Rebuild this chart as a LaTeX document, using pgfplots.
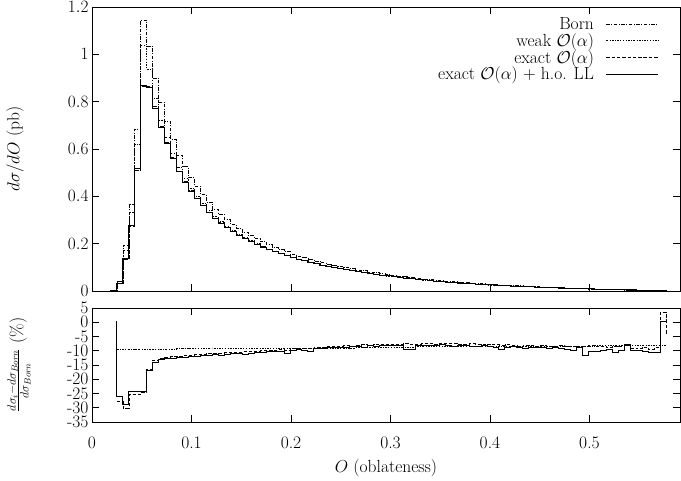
\documentclass[border=0pt]{standalone}
\usepackage{pgfplots}
\usepackage{pgfplotstable}
\pgfplotsset{compat=1.18}

\pgfplotstableread{
x B W E S
0 0 0 0 0
0.019 0.003 0.003 0.002 0.002
0.025 0.043 0.039 0.031 0.032
0.031 0.191 0.173 0.133 0.136
0.037 0.368 0.333 0.275 0.278
0.043 0.685 0.621 0.512 0.518
0.049 1.145 1.037 0.863 0.868
0.055 1.035 0.938 0.865 0.861
0.061 0.900 0.815 0.779 0.772
0.067 0.797 0.722 0.697 0.692
0.073 0.717 0.650 0.629 0.625
0.079 0.640 0.580 0.563 0.559
0.085 0.574 0.521 0.506 0.503
0.091 0.525 0.476 0.463 0.460
0.097 0.479 0.434 0.424 0.422
0.103 0.443 0.402 0.393 0.390
0.109 0.408 0.370 0.362 0.360
0.115 0.376 0.341 0.334 0.332
0.121 0.346 0.314 0.308 0.307
0.127 0.325 0.295 0.290 0.287
0.133 0.302 0.274 0.270 0.268
0.139 0.282 0.256 0.252 0.251
0.145 0.265 0.241 0.237 0.236
0.151 0.250 0.227 0.224 0.222
0.157 0.234 0.213 0.210 0.209
0.163 0.221 0.201 0.199 0.197
0.169 0.208 0.189 0.187 0.186
0.175 0.196 0.178 0.177 0.176
0.181 0.185 0.168 0.167 0.166
0.187 0.175 0.159 0.158 0.157
0.193 0.167 0.152 0.151 0.149
0.199 0.156 0.142 0.142 0.141
0.205 0.148 0.135 0.134 0.134
0.211 0.141 0.128 0.128 0.127
0.217 0.135 0.123 0.123 0.121
0.223 0.127 0.116 0.116 0.115
0.229 0.120 0.109 0.110 0.109
0.235 0.114 0.104 0.104 0.104
0.241 0.109 0.0992 0.0996 0.099
0.247 0.104 0.0946 0.0954 0.095
0.253 0.0987 0.0898 0.0906 0.090
0.259 0.094 0.0855 0.0862 0.086
0.265 0.0895 0.0816 0.0823 0.082
0.271 0.0854 0.0779 0.0787 0.078
0.277 0.0807 0.0736 0.0742 0.074
0.283 0.0776 0.0708 0.0715 0.071
0.289 0.0730 0.0666 0.0674 0.067
0.295 0.0696 0.0635 0.0642 0.064
0.301 0.0665 0.0606 0.0614 0.061
0.307 0.0631 0.0575 0.0582 0.058
0.313 0.0608 0.0554 0.0562 0.055
0.319 0.0575 0.0524 0.0530 0.052
0.325 0.0534 0.0488 0.0493 0.049
0.331 0.0511 0.0467 0.0473 0.047
0.337 0.0480 0.0439 0.0444 0.044
0.343 0.0457 0.0418 0.0422 0.042
0.349 0.0434 0.0397 0.0402 0.040
0.355 0.0414 0.0378 0.0383 0.038
0.361 0.0393 0.0359 0.0364 0.036
0.367 0.0370 0.0338 0.0342 0.034
0.373 0.0349 0.0319 0.0322 0.032
0.379 0.0339 0.0310 0.0314 0.031
0.385 0.0317 0.0290 0.0292 0.029
0.391 0.0305 0.0279 0.0281 0.028
0.397 0.0284 0.0260 0.0262 0.026
0.403 0.0274 0.0251 0.0253 0.025
0.409 0.0254 0.0232 0.0234 0.023
0.415 0.0241 0.0221 0.0222 0.022
0.421 0.0230 0.0210 0.0211 0.021
0.427 0.0220 0.0201 0.0202 0.020
0.433 0.0208 0.0190 0.0191 0.019
0.439 0.0198 0.0181 0.0182 0.018
0.445 0.0187 0.0171 0.0171 0.017
0.451 0.0175 0.0160 0.0161 0.016
0.457 0.0165 0.0151 0.0151 0.015
0.463 0.0154 0.0141 0.0141 0.014
0.469 0.0143 0.0131 0.0131 0.013
0.475 0.0133 0.0122 0.0122 0.012
0.481 0.0122 0.0112 0.0112 0.011
0.487 0.0110 0.0101 0.0100 0.010
0.493 0.0105 0.0096 0.0096 0.0093
0.499 0.0100 0.0092 0.0092 0.009
0.505 0.0089 0.0082 0.0081 0.008
0.511 0.0083 0.0076 0.0076 0.0075
0.517 0.0077 0.0071 0.0070 0.007
0.523 0.0067 0.0062 0.0061 0.006
0.529 0.0061 0.0056 0.0056 0.0055
0.535 0.0054 0.0050 0.0050 0.005
0.541 0.0050 0.0046 0.0046 0.0045
0.547 0.0044 0.0040 0.0040 0.004
0.553 0.0039 0.0036 0.0036 0.0035
0.559 0.0034 0.0031 0.0031 0.003
0.565 0.0028 0.0026 0.0026 0.0025
0.571 0.0020 0.0018 0.0021 0.0020
0.577 0 0 0 0
}\topdata

\pgfplotstableread{
x dW dE dS
0.025 nan nan 0.4
0.025 -9.4 -27.6 -26.1
0.031 -9.4 -30.2 -28.8
0.037 -9.4 -25.3 -24.4
0.043 -9.4 -25.3 -24.4
0.049 -9.4 -24.6 -24.2
0.055 -9.4 -16.4 -16.8
0.061 -9.4 -13.4 -14.2
0.067 -9.4 -12.6 -13.2
0.073 -9.4 -12.3 -12.8
0.079 -9.4 -12.1 -12.6
0.085 -9.3 -11.9 -12.4
0.091 -9.3 -11.7 -12.3
0.097 -9.3 -11.5 -11.9
0.103 -9.3 -11.4 -12.0
0.109 -9.3 -11.2 -11.7
0.115 -9.3 -11.0 -11.6
0.121 -9.3 -10.9 -11.4
0.127 -9.3 -10.8 -11.8
0.133 -9.3 -10.7 -11.3
0.139 -9.3 -10.5 -11.1
0.145 -9.1 -10.4 -11.0
0.151 -9.1 -10.3 -11.2
0.157 -9.1 -10.2 -10.8
0.163 -9.1 -10.1 -10.7
0.169 -9.1 -10.0 -10.5
0.175 -9.1 -9.9 -10.3
0.181 -9.1 -9.7 -10.4
0.187 -9.1 -9.6 -10.1
0.193 -9.1 -9.8 -10.9
0.199 -9.1 -9.3 -9.8
0.205 -9.0 -9.2 -9.6
0.211 -9.0 -9.0 -9.9
0.217 -9.0 -9.1 -10.2
0.223 -9.0 -8.8 -9.2
0.229 -9.0 -8.7 -9.3
0.235 -9.0 -8.5 -8.9
0.241 -9.0 -8.6 -9.0
0.247 -9.0 -8.3 -8.7
0.253 -9.0 -8.2 -8.8
0.259 -9.0 -8.3 -8.5
0.265 -8.8 -8.0 -8.4
0.271 -8.8 -7.9 -8.7
0.277 -8.8 -8.1 -8.3
0.283 -8.8 -7.8 -8.5
0.289 -8.8 -7.7 -8.2
0.295 -8.8 -7.8 -8.0
0.301 -8.8 -7.6 -8.3
0.307 -8.8 -7.7 -8.1
0.313 -8.8 -7.5 -9.6
0.319 -8.8 -7.8 -9.5
0.325 -8.6 -7.6 -8.2
0.331 -8.6 -7.4 -8.0
0.337 -8.6 -7.5 -8.3
0.343 -8.6 -7.7 -8.1
0.349 -8.6 -7.4 -7.9
0.355 -8.6 -7.5 -8.2
0.361 -8.6 -7.3 -8.4
0.367 -8.6 -7.6 -8.1
0.373 -8.6 -7.7 -8.3
0.379 -8.6 -7.5 -8.6
0.385 -8.5 -7.8 -8.4
0.391 -8.5 -7.9 -8.2
0.397 -8.5 -7.6 -8.5
0.403 -8.5 -7.8 -8.7
0.409 -8.5 -8.0 -9.4
0.415 -8.5 -7.9 -8.8
0.421 -8.5 -8.1 -8.6
0.427 -8.5 -8.3 -8.9
0.433 -8.5 -8.0 -9.2
0.439 -8.5 -8.2 -8.9
0.445 -8.3 -8.4 -9.0
0.451 -8.3 -8.1 -8.8
0.457 -8.3 -8.3 -9.1
0.463 -8.3 -8.5 -8.9
0.469 -8.3 -8.2 -9.3
0.475 -8.3 -8.6 -9.5
0.481 -8.3 -8.3 -9.8
0.487 -8.3 -8.7 -9.0
0.493 -8.3 -8.5 -11.8
0.499 -8.3 -8.2 -10.2
0.505 -8.1 -8.6 -10.1
0.511 -8.1 -8.4 -10.0
0.517 -8.1 -8.8 -9.6
0.523 -8.1 -8.3 -10.5
0.529 -8.1 -8.6 -9.8
0.535 -8.1 -8.1 -7.9
0.541 -8.1 -9.0 -9.8
0.547 -8.1 -9.3 -9.8
0.553 -8.1 -8.7 -10.4
0.559 -8.1 -9.5 -10.6
0.565 -8.1 -8.9 -10.7
0.571 -8.1 3.5 0.2
0.577 -8.1 -4.5 0.2
}\botdata

\pgfplotsset{
  every axis/.append style={
    font=\fontsize{17.5}{20}\selectfont,
    scale only axis,
    axis line style={line width=0.8pt},
    major tick length=7pt,
    tick style={line width=0.6pt, black},
    xmin=0, xmax=0.591,
    xtick={0,0.1,0.2,0.3,0.4,0.5},
    const plot,
  },
  bornstyle/.style={black, line width=0.6pt, dash pattern=on 3.5pt off 1.5pt on 1pt off 1.5pt},
  weakstyle/.style={black, line width=0.6pt, dash pattern=on 1.8pt off 1.4pt on 0.8pt off 1.4pt},
  exactstyle/.style={black, line width=0.6pt, dash pattern=on 3.5pt off 1.8pt},
  holstyle/.style={black, line width=0.9pt},
}

\begin{document}
\begin{tikzpicture}
\path[use as bounding box] (0pt,0pt) rectangle (681pt,481pt);
\begin{axis}[
  at={(92pt,190pt)}, anchor=south west,
  width=588pt, height=284pt,
  ymin=0, ymax=1.2,
  ytick={0,0.2,0.4,0.6,0.8,1,1.2},
  xticklabels={},
  ylabel={$d\sigma/dO$ (pb)},
  ylabel style={at={(axis description cs:-0.131,0.5)}, anchor=center},
  legend cell align=right,
  legend plot pos=right,
  legend style={at={(1,1)}, anchor=north east, xshift=-18pt, yshift=-6pt,
    draw=none, fill=none, row sep=-1.5pt},
  legend image code/.code={\path (0pt,0pt); \draw[#1] (10pt,0pt) -- (62pt,0pt);},
]
\addplot[bornstyle] table[x=x, y=B] {\topdata};
\addlegendentry{Born}
\addplot[weakstyle] table[x=x, y=W] {\topdata};
\addlegendentry{weak $\mathcal{O}(\alpha)$}
\addplot[exactstyle] table[x=x, y=E] {\topdata};
\addlegendentry{exact $\mathcal{O}(\alpha)$}
\addplot[holstyle] table[x=x, y=S] {\topdata};
\addlegendentry{exact $\mathcal{O}(\alpha)$ + h.o. LL}
\end{axis}

\begin{axis}[
  at={(92pt,59pt)}, anchor=south west,
  width=588pt, height=114pt,
  ymin=-35, ymax=5,
  ytick={-35,-30,-25,-20,-15,-10,-5,0,5},
  yticklabels={-35,-30,-25,-20,-15,-10,-5,0,5},
  yticklabel style={inner ysep=0pt},
  xticklabels={0,0.1,0.2,0.3,0.4,0.5},
  xticklabel style={yshift=-11pt},
  xlabel={$O$ (oblateness)},
  xlabel style={yshift=-4pt},
  ylabel={$\frac{d\sigma_i-d\sigma_{Born}}{d\sigma_{Born}}$ (\%)},
  ylabel style={at={(axis description cs:-0.124,0.5)}, anchor=center},
]
\addplot[weakstyle] table[x=x, y=dW] {\botdata};
\addplot[exactstyle] table[x=x, y=dE] {\botdata};
\addplot[holstyle] table[x=x, y=dS] {\botdata};
\end{axis}
\end{tikzpicture}
\end{document}
